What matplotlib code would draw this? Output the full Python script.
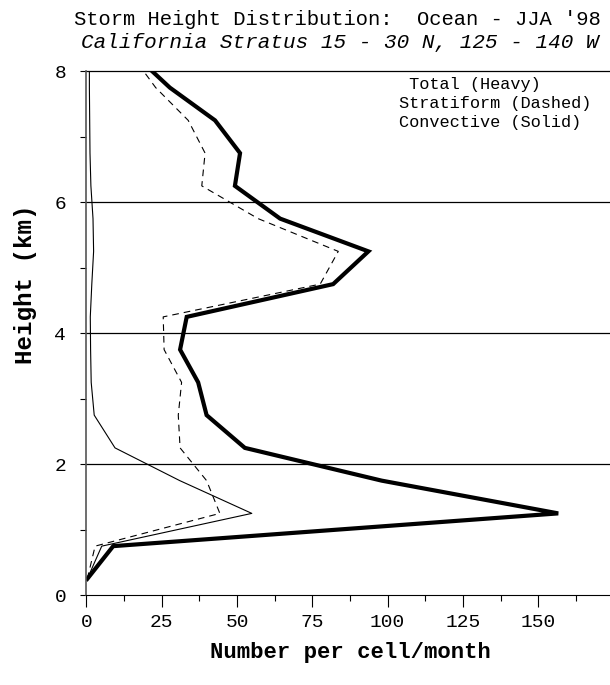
import matplotlib.pyplot as plt

# heights (km) at which the counts are given
heights = [0.25, 0.75, 1.25, 1.75, 2.25, 2.75, 3.25, 3.75, 4.25,
           4.75, 5.25, 5.75, 6.25, 6.75, 7.25, 7.75, 8.25]

total = [0.3, 8.9, 156.6, 98, 52.6, 39.9, 37.1, 31.1, 33.3,
         81.9, 93.6, 64.3, 49.3, 51.0, 42.7, 27.7, 16]
stratiform = [0.3, 2.9, 44.3, 39.9, 31.1, 30.5, 31.6, 25.8, 25.5,
              77.6, 83.6, 57, 38.3, 39.4, 33.8, 23, 15]
convective = [0.3, 5.1, 54.9, 31, 9.5, 2.6, 1.6, 1.4, 1.3,
              1.8, 2.4, 2.2, 1.5, 1.2, 1.1, 1.0, 1.0]

xticks = [0, 25, 50, 75, 100, 125, 150]
yticks = [0, 2, 4, 6, 8]

font = 'Liberation Mono'


def main():
    fig = plt.figure(figsize=(6.1, 6.85), dpi=100)
    ax = fig.add_axes([0.1416, 0.131, 0.8644, 0.765])

    ax.plot(total, heights, color='black', lw=3.0, solid_joinstyle='miter')
    ax.plot(stratiform, heights, color='black', lw=0.8, dashes=(6, 4.5))
    ax.plot(convective, heights, color='black', lw=0.8)

    for h in [2, 4, 6, 8]:
        ax.axhline(h, color='black', lw=0.9, clip_on=False)

    ax.set_xlim(0, 175)
    ax.set_ylim(0, 8)

    ax.set_xticks(xticks)
    ax.set_xticks([12.5 + 25 * i for i in range(7)], minor=True)
    ax.set_yticks(yticks)
    ax.set_yticks([1, 3, 5, 7], minor=True)
    ax.tick_params(axis='x', which='major', length=8.5, width=0.8, pad=5,
                   labelsize=14)
    ax.tick_params(axis='x', which='minor', length=4, width=0.8)
    ax.tick_params(axis='y', which='both', length=4.5, width=0.8, pad=10,
                   labelsize=14)
    for lab in ax.get_xticklabels() + ax.get_yticklabels():
        lab.set_fontfamily(font)

    ax.spines['top'].set_visible(False)
    ax.spines['right'].set_visible(False)
    ax.spines['left'].set_color('#555555')
    ax.spines['left'].set_linewidth(1.2)

    ax.set_xlabel('Number per cell/month', fontfamily=font, fontweight='bold',
                  fontsize=16, labelpad=8)
    fig.text(0.041, 0.585, 'Height (km)', rotation=90, ha='center',
             va='center', fontfamily=font, fontweight='bold', fontsize=17.5)

    fig.text(0.553, 0.972, "Storm Height Distribution:  Ocean - JJA '98",
             ha='center', va='center', fontfamily=font, fontsize=14.8)
    fig.text(0.557, 0.938, 'California Stratus 15 - 30 N, 125 - 140 W',
             ha='center', va='center', fontfamily=font, fontsize=15.1,
             style='italic')

    legend_lines = [' Total (Heavy)', 'Stratiform (Dashed)', 'Convective (Solid)']
    for i, s in enumerate(legend_lines):
        fig.text(0.654, 0.876 - i * 0.0272, s, ha='left', va='center',
                 fontfamily=font, fontsize=12.2)

    fig.savefig('out.png', dpi=100)


if __name__ == "__main__":
    main()
